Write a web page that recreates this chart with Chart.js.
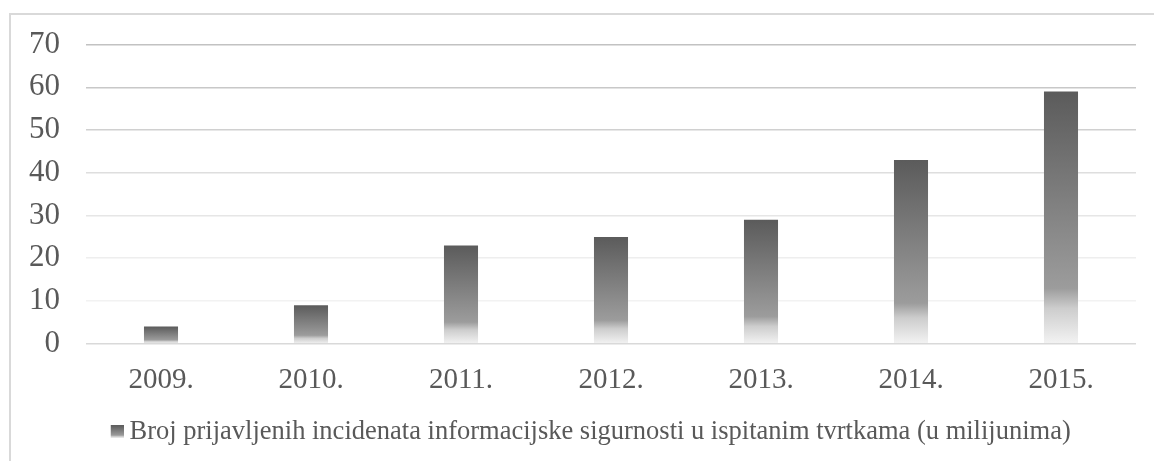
<!DOCTYPE html>
<html>
<head>
<meta charset="utf-8">
<script src="https://cdn.jsdelivr.net/npm/chart.js@4.4.1/dist/chart.umd.min.js"></script>
<style>
  html, body { margin: 0; padding: 0; background: #fff; }
  #wrap { position: relative; width: 1154px; height: 461px; overflow: hidden; }
  #frame { position: absolute; left: 9px; top: 13px; width: 1160px; height: 470px; border: 2px solid #d9d9d9; box-sizing: border-box; }
  canvas { position: absolute; left: 0; top: 0; }
</style>
</head>
<body>
<div id="wrap">
  <div id="frame"></div>
  <canvas id="c" width="1154" height="461"></canvas>
</div>
<script>
const categories = ['2009.', '2010.', '2011.', '2012.', '2013.', '2014.', '2015.'];
const values = [4, 9, 23, 25, 29, 43, 59];
const seriesLabel = 'Broj prijavljenih incidenata informacijske sigurnosti u ispitanim tvrtkama (u milijunima)';
const yMin = 0, yMax = 70, yStep = 10;

const FONT = '"Liberation Serif", "Times New Roman", serif';
const TEXT = '#595959';
const gridColors = ['#d9d9d9', '#f2f2f2', '#eeeeee', '#e6e6e6', '#dedede', '#d0d0d0', '#c8c8c8', '#c2c2c2'];

function addStops(g) {
  g.addColorStop(0, '#5b5b5b');
  g.addColorStop(0.78, '#9c9c9c');
  g.addColorStop(0.86, '#cdcdcd');
  g.addColorStop(1, '#f3f3f3');
  return g;
}

// legend swatch image (square on the right side of a wider transparent image)
const sw = document.createElement('canvas');
sw.width = 16; sw.height = 13;
{
  const sctx = sw.getContext('2d');
  const g = addStops(sctx.createLinearGradient(0, 0, 0, 13));
  sctx.fillStyle = g;
  sctx.fillRect(3, 0, 13, 13);
}

const legendShift = {
  id: 'legendShift',
  afterLayout(chart) {
    const lg = chart.legend;
    if (lg) { lg.left += 20; lg.right += 20; }
  }
};

const ctx = document.getElementById('c').getContext('2d');
new Chart(ctx, {
  type: 'bar',
  plugins: [legendShift],
  data: {
    labels: categories,
    datasets: [{
      label: seriesLabel,
      data: values,
      backgroundColor: (c) => {
        const chart = c.chart;
        const ys = chart.scales.y;
        if (!chart.chartArea || !ys || c.raw == null) return '#7a7a7a';
        const top = ys.getPixelForValue(c.raw);
        const bot = ys.getPixelForValue(0);
        return addStops(chart.ctx.createLinearGradient(0, top, 0, bot));
      },
      borderWidth: 0,
      barPercentage: 0.227,
      categoryPercentage: 1.0
    }]
  },
  options: {
    responsive: false,
    animation: false,
    layout: { padding: { left: 10, right: 18, top: 31, bottom: 6 } },
    plugins: {
      tooltip: { enabled: false },
      legend: {
        position: 'bottom',
        labels: {
          usePointStyle: true,
          pointStyleWidth: 1,
          color: TEXT,
          font: { family: FONT, size: 26.5 },
          padding: 10,
          generateLabels: () => [{
            text: seriesLabel,
            pointStyle: sw,
            fillStyle: '#777',
            strokeStyle: 'rgba(0,0,0,0)',
            lineWidth: 0,
            fontColor: TEXT,
            datasetIndex: 0,
            hidden: false
          }]
        }
      }
    },
    scales: {
      x: {
        grid: { display: false },
        border: { display: false },
        ticks: { color: TEXT, font: { family: FONT, size: 29 }, padding: 11 }
      },
      y: {
        min: yMin, max: yMax,
        afterFit: (s) => { s.width = 76; },
        grid: {
          drawTicks: false,
          lineWidth: 1.5,
          color: (c) => gridColors[c.index] || '#d9d9d9'
        },
        border: { display: false },
        ticks: { stepSize: yStep, color: TEXT, font: { family: FONT, size: 31 }, padding: 26 }
      }
    }
  }
});
</script>
</body>
</html>
